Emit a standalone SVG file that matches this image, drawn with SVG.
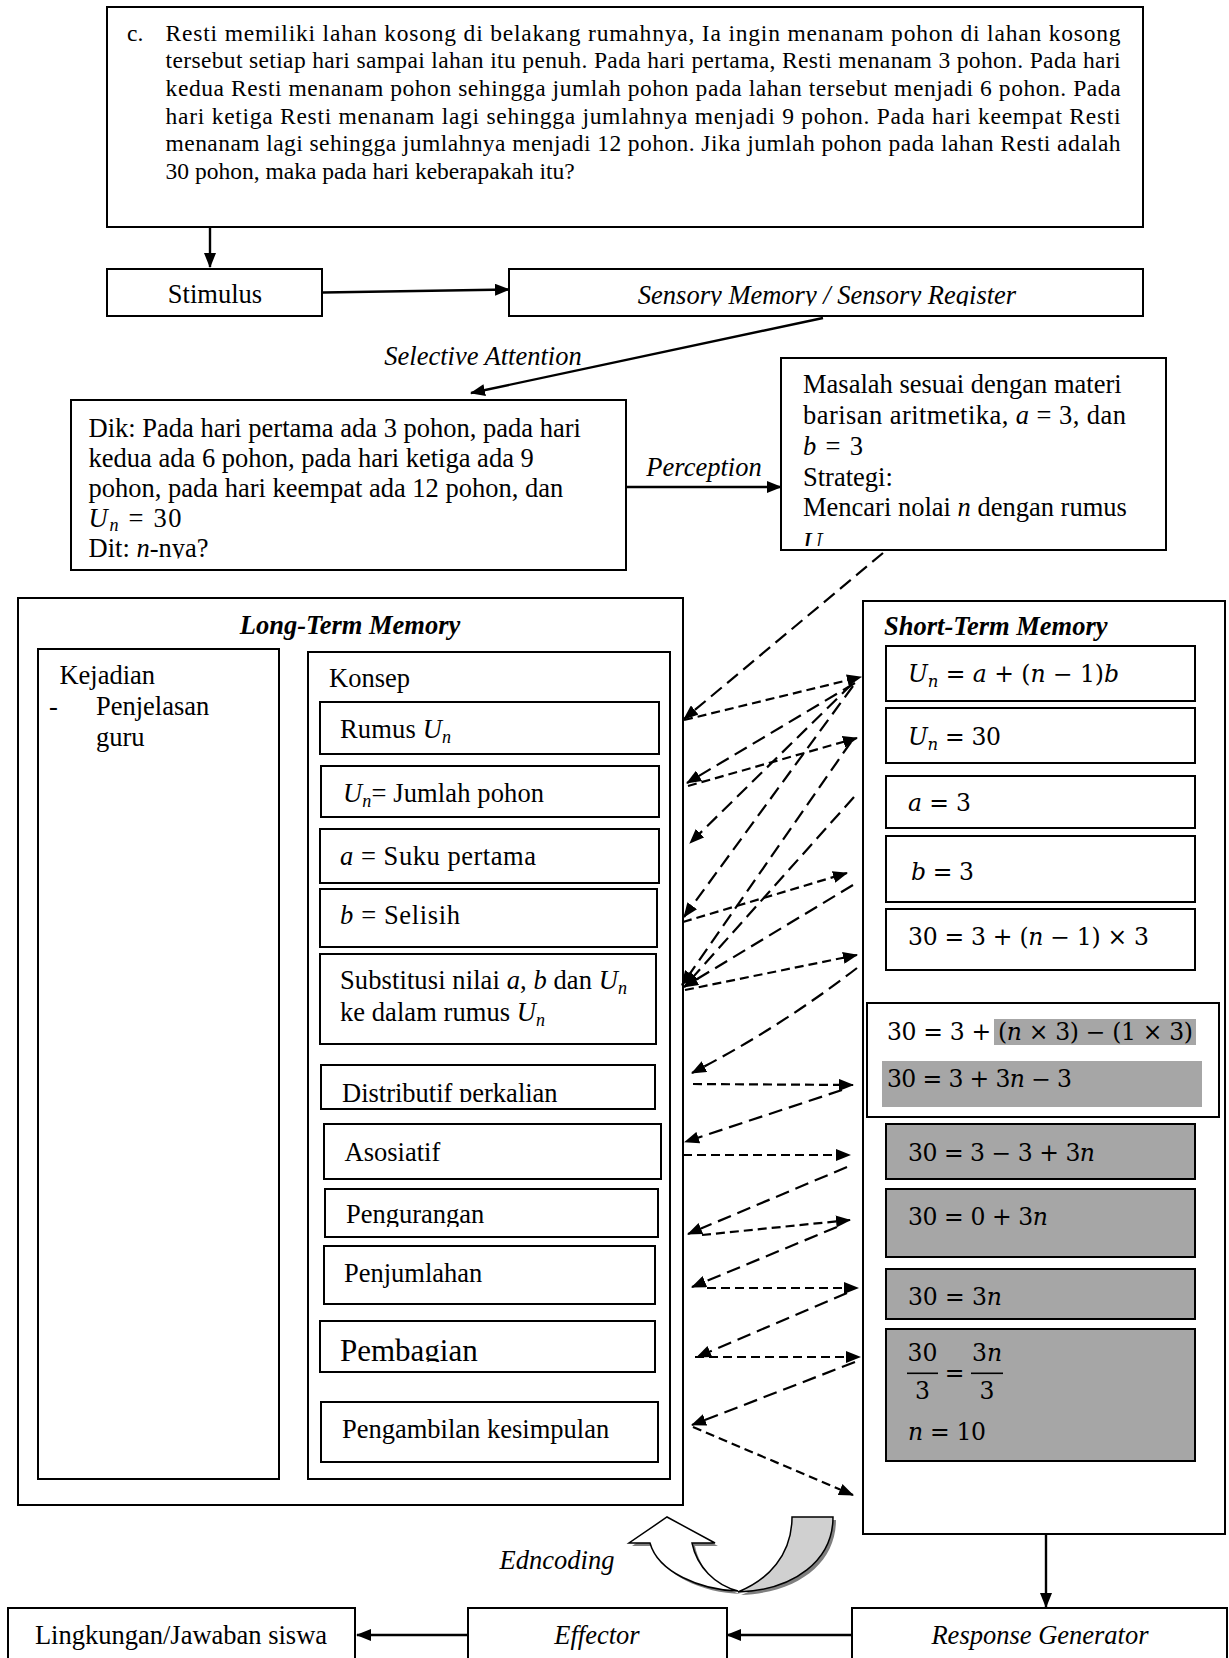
<svg xmlns="http://www.w3.org/2000/svg" width="1229" height="1658" viewBox="0 0 1229 1658">
<defs>
<style>
.b{fill:#fff;stroke:#000;stroke-width:2}
.g{fill:#a6a6a6;stroke:#000;stroke-width:2}
.hl{fill:#a6a6a6}
text{font-family:"Liberation Serif","Times New Roman",serif;fill:#000}
.t{font-size:26.5px}
.tt{font-size:23.5px}
.pb{font-size:31px}
.it{font-style:italic}
.bi{font-style:italic;font-weight:bold}
.m{font-family:"DejaVu Serif",serif;font-size:23.5px}
.sub{font-size:18px}
.m .sub{font-size:16.5px}
.c{fill:none;stroke:#000;stroke-width:2.4}
.dl{fill:none;stroke:#000;stroke-width:2.2;stroke-dasharray:14 7}
.ds{fill:none;stroke:#000;stroke-width:2.2;stroke-dasharray:9 5}
</style>
<marker id="ah" markerUnits="userSpaceOnUse" markerWidth="15" markerHeight="12" viewBox="0 0 15 12" refX="14" refY="6" orient="auto"><path d="M0,0 L15,6 L0,12 z" fill="#000"/></marker>
<clipPath id="cpSens"><rect x="509" y="269" width="634" height="37"/></clipPath>
<clipPath id="cpDik"><rect x="71" y="400" width="555" height="158.5"/></clipPath>
<clipPath id="cpMas"><rect x="781" y="358" width="385" height="188"/></clipPath>
<clipPath id="cpDis"><rect x="321" y="1065" width="334" height="37"/></clipPath>
<clipPath id="cpPeng"><rect x="325" y="1189" width="333" height="38"/></clipPath>
<clipPath id="cpPemb"><rect x="319" y="1321" width="336" height="41"/></clipPath>
</defs>

<g id="problem">
<rect class="b" x="107" y="7" width="1036" height="220"/>
<text class="tt" x="127" y="40.5">c.</text>
<text class="tt" x="165.6" y="40.5" textLength="955" lengthAdjust="spacing">Resti memiliki lahan kosong di belakang rumahnya, Ia ingin menanam pohon di lahan kosong</text>
<text class="tt" x="165.6" y="68.2" textLength="955" lengthAdjust="spacing">tersebut setiap hari sampai lahan itu penuh. Pada hari pertama, Resti menanam 3 pohon. Pada hari</text>
<text class="tt" x="165.6" y="95.9" textLength="955" lengthAdjust="spacing">kedua Resti menanam pohon sehingga jumlah pohon pada lahan tersebut menjadi 6 pohon. Pada</text>
<text class="tt" x="165.6" y="123.6" textLength="955" lengthAdjust="spacing">hari ketiga Resti menanam lagi sehingga jumlahnya menjadi 9 pohon. Pada hari keempat Resti</text>
<text class="tt" x="165.6" y="151.3" textLength="955" lengthAdjust="spacing">menanam lagi sehingga jumlahnya menjadi 12 pohon. Jika jumlah pohon pada lahan Resti adalah</text>
<text class="tt" x="165.6" y="179">30 pohon, maka pada hari keberapakah itu?</text>
</g>

<g id="stimulus">
<rect class="b" x="107" y="269" width="215" height="47"/>
<text class="t" x="215" y="303" text-anchor="middle">Stimulus</text>
</g>

<g id="sensory">
<rect class="b" x="509" y="269" width="634" height="47"/>
<text class="t it" x="827" y="304" text-anchor="middle" clip-path="url(#cpSens)">Sensory Memory / Sensory Register</text>
</g>

<g id="dik">
<rect class="b" x="71" y="400" width="555" height="170"/>
<g clip-path="url(#cpDik)">
<text class="t" x="88.6" y="436.5">Dik: Pada hari pertama ada 3 pohon, pada hari</text>
<text class="t" x="88.6" y="466.5">kedua ada 6 pohon, pada hari ketiga ada 9</text>
<text class="t" x="88.6" y="496.5">pohon, pada hari keempat ada 12 pohon, dan</text>
<text class="t" x="88.6" y="526.5" textLength="93" lengthAdjust="spacing"><tspan class="it">U</tspan><tspan class="it sub" dy="4">n</tspan><tspan dy="-4"> = 30</tspan></text>
<text class="t" x="88.6" y="556.5">Dit: <tspan class="it">n</tspan>-nya?</text>
</g>
</g>

<g id="masalah">
<rect class="b" x="781" y="358" width="385" height="192"/>
<g clip-path="url(#cpMas)">
<text class="t" x="803" y="393">Masalah sesuai dengan materi</text>
<text class="t" x="803" y="424" textLength="323" lengthAdjust="spacing">barisan aritmetika, <tspan class="it">a</tspan> = 3, dan</text>
<text class="t" x="803" y="455" textLength="60" lengthAdjust="spacing"><tspan class="it">b</tspan> = 3</text>
<text class="t" x="803" y="486">Strategi:</text>
<text class="t" x="803" y="516">Mencari nolai <tspan class="it">n</tspan> dengan rumus</text>
<text class="t it" x="803" y="551">U</text>
</g>
</g>

<g id="ltm">
<rect class="b" x="18" y="598" width="665" height="907"/>
<text class="t bi" x="350" y="634" text-anchor="middle">Long-Term Memory</text>
</g>

<g id="kejadian">
<rect class="b" x="38" y="649" width="241" height="830"/>
<text class="t" x="59.4" y="684">Kejadian</text>
<text class="t" x="49" y="715">-</text>
<text class="t" x="96" y="715">Penjelasan</text>
<text class="t" x="96" y="746">guru</text>
</g>

<g id="konsep">
<rect class="b" x="308" y="652" width="362" height="827"/>
<text class="t" x="329" y="686.7">Konsep</text>
</g>

<g id="k-rumus">
<rect class="b" x="320" y="702" width="339" height="52"/>
<text class="t" x="340" y="738.3" textLength="111" lengthAdjust="spacing">Rumus <tspan class="it">U</tspan><tspan class="it sub" dy="5">n</tspan></text>
</g>
<g id="k-un">
<rect class="b" x="321" y="766" width="338" height="51"/>
<text class="t" x="343" y="802.3" textLength="201" lengthAdjust="spacing"><tspan class="it">U</tspan><tspan class="it sub" dy="5">n</tspan><tspan dy="-5">= Jumlah pohon</tspan></text>
</g>
<g id="k-a">
<rect class="b" x="320" y="829" width="339" height="54"/>
<text class="t" x="340" y="865.3" textLength="196" lengthAdjust="spacing"><tspan class="it">a</tspan> = Suku pertama</text>
</g>
<g id="k-b">
<rect class="b" x="320" y="889" width="337" height="58"/>
<text class="t" x="340" y="924.3" textLength="120" lengthAdjust="spacing"><tspan class="it">b</tspan> = Selisih</text>
</g>
<g id="k-subs">
<rect class="b" x="320" y="954" width="336" height="90"/>
<text class="t" x="340" y="989.3" textLength="287" lengthAdjust="spacing">Substitusi nilai <tspan class="it">a</tspan>, <tspan class="it">b</tspan> dan <tspan class="it">U</tspan><tspan class="it sub" dy="5">n</tspan></text>
<text class="t" x="340" y="1020.7" textLength="205" lengthAdjust="spacing">ke dalam rumus <tspan class="it">U</tspan><tspan class="it sub" dy="5">n</tspan></text>
</g>
<g id="k-dist">
<rect class="b" x="321" y="1065" width="334" height="44"/>
<text class="t" x="342" y="1101.5" clip-path="url(#cpDis)">Distributif perkalian</text>
</g>
<g id="k-asos">
<rect class="b" x="324" y="1124" width="337" height="55"/>
<text class="t" x="344.6" y="1160.7">Asosiatif</text>
</g>
<g id="k-peng">
<rect class="b" x="325" y="1189" width="333" height="48"/>
<text class="t" x="346" y="1223.3" clip-path="url(#cpPeng)">Pengurangan</text>
</g>
<g id="k-penj">
<rect class="b" x="324" y="1246" width="331" height="58"/>
<text class="t" x="344" y="1281.7">Penjumlahan</text>
</g>
<g id="k-pemb">
<rect class="b" x="320" y="1321" width="335" height="51"/>
<text class="pb" x="340" y="1360.7" clip-path="url(#cpPemb)">Pembagian</text>
</g>
<g id="k-simp">
<rect class="b" x="321" y="1402" width="337" height="60"/>
<text class="t" x="342" y="1437.7">Pengambilan kesimpulan</text>
</g>

<g id="stm">
<rect class="b" x="863" y="601" width="362" height="933"/>
<text class="t bi" x="884" y="635">Short-Term Memory</text>
</g>
<g id="s1">
<rect class="b" x="886" y="646" width="309" height="55"/>
<text class="m" x="908" y="681.7" textLength="211" lengthAdjust="spacing"><tspan class="it">U</tspan><tspan class="it sub" dy="5">n</tspan><tspan dy="-5"> = </tspan><tspan class="it">a</tspan> + (<tspan class="it">n</tspan> − 1)<tspan class="it">b</tspan></text>
</g>
<g id="s2">
<rect class="b" x="886" y="708" width="309" height="55"/>
<text class="m" x="908" y="745" textLength="93" lengthAdjust="spacing"><tspan class="it">U</tspan><tspan class="it sub" dy="5">n</tspan><tspan dy="-5"> = 30</tspan></text>
</g>
<g id="s3">
<rect class="b" x="886" y="776" width="309" height="52"/>
<text class="m" x="908" y="810.7" textLength="63" lengthAdjust="spacing"><tspan class="it">a</tspan> = 3</text>
</g>
<g id="s4">
<rect class="b" x="886" y="836" width="309" height="66"/>
<text class="m" x="911" y="880" textLength="63" lengthAdjust="spacing"><tspan class="it">b</tspan> = 3</text>
</g>
<g id="s5">
<rect class="b" x="886" y="909" width="309" height="61"/>
<text class="m" x="908" y="945" textLength="241" lengthAdjust="spacing">30 = 3 + (<tspan class="it">n</tspan> − 1) × 3</text>
</g>
<g id="s6">
<rect class="b" x="867" y="1003" width="352" height="114"/>
<rect class="hl" x="994" y="1019" width="202" height="26"/>
<rect class="hl" x="882" y="1061" width="320" height="46"/>
<text class="m" x="887" y="1040" textLength="306" lengthAdjust="spacing">30 = 3 + (<tspan class="it">n</tspan> × 3) − (1 × 3)</text>
<text class="m" x="887" y="1087" textLength="185" lengthAdjust="spacing">30 = 3 + 3<tspan class="it">n</tspan> − 3</text>
</g>
<g id="s7">
<rect class="g" x="886" y="1124" width="309" height="55"/>
<text class="m" x="908" y="1160.7" textLength="187" lengthAdjust="spacing">30 = 3 − 3 + 3<tspan class="it">n</tspan></text>
</g>
<g id="s8">
<rect class="g" x="886" y="1189" width="309" height="68"/>
<text class="m" x="908" y="1225" textLength="140" lengthAdjust="spacing">30 = 0 + 3<tspan class="it">n</tspan></text>
</g>
<g id="s9">
<rect class="g" x="886" y="1269" width="309" height="50"/>
<text class="m" x="908" y="1305" textLength="94" lengthAdjust="spacing">30 = 3<tspan class="it">n</tspan></text>
</g>
<g id="s10">
<rect class="g" x="886" y="1329" width="309" height="132"/>
<text class="m" x="922.5" y="1361" text-anchor="middle">30</text>
<line x1="907" y1="1373.3" x2="938" y2="1373.3" stroke="#000" stroke-width="1.6"/>
<text class="m" x="922.5" y="1399" text-anchor="middle">3</text>
<text class="m" x="954.5" y="1381" text-anchor="middle">=</text>
<text class="m" x="987" y="1361" text-anchor="middle">3<tspan class="it">n</tspan></text>
<line x1="971" y1="1373.3" x2="1003" y2="1373.3" stroke="#000" stroke-width="1.6"/>
<text class="m" x="987" y="1399" text-anchor="middle">3</text>
<text class="m" x="908" y="1440" textLength="78" lengthAdjust="spacing"><tspan class="it">n</tspan> = 10</text>
</g>

<g id="lingkungan">
<path class="b" d="M8,1658 V1608 H355 V1658"/>
<text class="t" x="181" y="1644" text-anchor="middle">Lingkungan/Jawaban siswa</text>
</g>
<g id="effector">
<path class="b" d="M468,1658 V1608 H727 V1658"/>
<text class="t it" x="597" y="1644" text-anchor="middle">Effector</text>
</g>
<g id="response">
<path class="b" d="M852,1658 V1608 H1227 V1658"/>
<text class="t it" x="1040" y="1644" text-anchor="middle">Response Generator</text>
</g>

<g id="encoding">
<path d="M795,1520 L836,1520 C836,1563 798,1593 741,1595 C771,1583 795,1558 795,1520 Z" fill="#7f7f7f"/>
<path d="M653,1546 L632,1546 L670,1520 L718,1546 L695,1546 C700,1570 718,1588 741,1594 C703,1593 661,1575 653,1546 Z" fill="#7f7f7f"/>
<path d="M792,1517 L833,1517 C833,1560 795,1590 738,1592 C768,1580 792,1555 792,1517 Z" fill="#d0d0d0" stroke="#000" stroke-width="1.5"/>
<path d="M650,1543 L629,1543 L667,1517 L715,1543 L692,1543 C697,1567 715,1585 738,1591 C700,1590 658,1572 650,1543 Z" fill="#fff" stroke="#000" stroke-width="1.5"/>
<text class="t it" x="557" y="1569" text-anchor="middle">Edncoding</text>
</g>

<g id="connectors">
<line class="c" x1="210" y1="227" x2="210" y2="267" marker-end="url(#ah)"/>
<line class="c" x1="323" y1="292.5" x2="509" y2="289.5" marker-end="url(#ah)"/>
<line class="c" x1="823" y1="318" x2="471" y2="393" marker-end="url(#ah)"/>
<text class="t it" x="483" y="364.5" text-anchor="middle">Selective Attention</text>
<line class="c" x1="626" y1="487" x2="781" y2="487" marker-end="url(#ah)"/>
<text class="t it" x="704" y="476" text-anchor="middle">Perception</text>
<line class="c" x1="1046" y1="1534" x2="1046" y2="1607" marker-end="url(#ah)"/>
<line class="c" x1="852" y1="1635" x2="727" y2="1635" marker-end="url(#ah)"/>
<line class="c" x1="468" y1="1635" x2="357" y2="1635" marker-end="url(#ah)"/>

<line class="dl" x1="883" y1="553" x2="684" y2="719" marker-end="url(#ah)"/>
<line class="dl" x1="855" y1="683" x2="687" y2="783" marker-end="url(#ah)"/>
<line class="dl" x1="852" y1="684" x2="690" y2="843" marker-end="url(#ah)"/>
<line class="dl" x1="853" y1="686" x2="684" y2="917" marker-end="url(#ah)"/>
<line class="dl" x1="851" y1="742" x2="682" y2="985" marker-end="url(#ah)"/>
<line class="dl" x1="854" y1="797" x2="685" y2="986" marker-end="url(#ah)"/>
<line class="dl" x1="853" y1="885" x2="684" y2="987" marker-end="url(#ah)"/>
<path class="dl" d="M857,968 Q779,1028 692,1073" marker-end="url(#ah)"/>
<line class="dl" x1="842" y1="1090" x2="685" y2="1142" marker-end="url(#ah)"/>
<line class="dl" x1="847" y1="1167" x2="688" y2="1234" marker-end="url(#ah)"/>
<line class="dl" x1="837" y1="1227" x2="692" y2="1287" marker-end="url(#ah)"/>
<line class="dl" x1="847" y1="1293" x2="697" y2="1357" marker-end="url(#ah)"/>
<line class="dl" x1="855" y1="1362" x2="692" y2="1425" marker-end="url(#ah)"/>

<line class="ds" x1="684" y1="720" x2="861" y2="677" marker-end="url(#ah)"/>
<line class="ds" x1="688" y1="786" x2="857" y2="738" marker-end="url(#ah)"/>
<line class="ds" x1="683" y1="922" x2="847" y2="873" marker-end="url(#ah)"/>
<line class="ds" x1="685" y1="990" x2="857" y2="955" marker-end="url(#ah)"/>
<line class="ds" x1="693" y1="1084" x2="853" y2="1085" marker-end="url(#ah)"/>
<line class="ds" x1="683" y1="1155" x2="850" y2="1155" marker-end="url(#ah)"/>
<line class="ds" x1="702" y1="1235" x2="850" y2="1220" marker-end="url(#ah)"/>
<line class="ds" x1="707" y1="1288" x2="858" y2="1288" marker-end="url(#ah)"/>
<line class="ds" x1="695" y1="1357" x2="860" y2="1357" marker-end="url(#ah)"/>
<line class="ds" x1="693" y1="1427" x2="853" y2="1495" marker-end="url(#ah)"/>
</g>
</svg>
